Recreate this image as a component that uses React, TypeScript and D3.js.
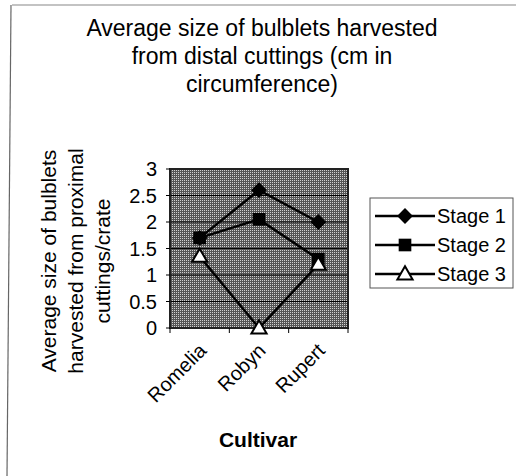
import React from "react";
import * as d3 from "d3";

const categories = ["Romelia", "Robyn", "Rupert"];
const stage1 = [1.7, 2.6, 2.0];
const stage2 = [1.7, 2.05, 1.3];
const stage3 = [1.35, 0, 1.2];
const seriesNames = ["Stage 1", "Stage 2", "Stage 3"];
const yTicks = [0, 0.5, 1, 1.5, 2, 2.5, 3];
const titleLines = ["Average size of bulblets harvested", "from distal cuttings (cm in", "circumference)"];
const yTitleLines = ["Average size of bulblets", "harvested from proximal", "cuttings/crate"];
const xTitle = "Cultivar";

const FONT = "'Liberation Sans', Arial, Helvetica, sans-serif";

function Marker({ kind, x, y }: { kind: number; x: number; y: number }) {
  if (kind === 0) {
    const s = d3.symbol().type(d3.symbolDiamond2).size(160)();
    return <path d={s || ""} transform={`translate(${x},${y})`} fill="#000" />;
  }
  if (kind === 1) {
    const s = d3.symbol().type(d3.symbolSquare).size(160)();
    return <path d={s || ""} transform={`translate(${x},${y})`} fill="#000" />;
  }
  const s = d3.symbol().type(d3.symbolTriangle).size(100)();
  return <path d={s || ""} transform={`translate(${x},${y + 1})`} fill="#fff" stroke="#000" strokeWidth={2} />;
}

export default function App() {
  const W = 516, H = 476;
  const plot = { left: 170, right: 348, top: 169, bottom: 328 };
  const x = d3.scaleBand().domain(categories).range([plot.left, plot.right]);
  const y = d3.scaleLinear().domain([0, 3]).range([plot.bottom, plot.top]);
  const series = [stage1, stage2, stage3];
  const line = d3
    .line<number>()
    .x((_, i) => (x(categories[i]) as number) + x.bandwidth() / 2)
    .y((d) => y(d));
  const catEdges = [...categories.map((c) => x(c) as number), plot.right];

  const legend = { x: 370, y: 198, w: 143, h: 90 };
  const legendYs = [216, 245, 274];

  return (
    <svg
      width={W}
      height={H}
      style={{ position: "absolute", left: 0, top: 0, background: "#fff" }}
      fontFamily={FONT}
    >
      <defs>
        <pattern id="hatch" width="2" height="2" patternUnits="userSpaceOnUse">
          <rect width="2" height="2" fill="#555" />
          <rect width="1" height="1" fill="#d0d0d0" />
        </pattern>
      </defs>
      {/* outer border (top & left) */}
      <line x1={12} y1={5} x2={516} y2={5} stroke="#888" strokeWidth={1.2} />
      <line x1={11} y1={5} x2={7} y2={476} stroke="#666" strokeWidth={1.2} />

      {/* title */}
      {titleLines.map((t, i) => (
        <text key={i} x={262} y={36 + i * 28} textAnchor="middle" fontSize={23} fill="#000">
          {t}
        </text>
      ))}

      {/* plot area */}
      <rect
        x={plot.left}
        y={plot.top}
        width={plot.right - plot.left}
        height={plot.bottom - plot.top}
        fill="url(#hatch)"
      />
      {yTicks.map((t) => (
        <line key={t} x1={plot.left} x2={plot.right} y1={y(t)} y2={y(t)} stroke="#000" strokeWidth={1} />
      ))}
      <rect
        x={plot.left}
        y={plot.top}
        width={plot.right - plot.left}
        height={plot.bottom - plot.top}
        fill="none"
        stroke="#222"
        strokeWidth={2}
      />
      {/* y ticks */}
      {yTicks.map((t) => (
        <g key={t}>
          <line x1={plot.left - 4} x2={plot.left} y1={y(t)} y2={y(t)} stroke="#000" />
          <text x={157} y={y(t)} dy="0.35em" textAnchor="end" fontSize={20}>
            {d3.format("~g")(t)}
          </text>
        </g>
      ))}
      {/* x ticks */}
      {catEdges.map((e, i) => (
        <line key={i} x1={e} x2={e} y1={plot.bottom} y2={plot.bottom + 5} stroke="#000" />
      ))}
      {categories.map((c) => {
        const cx = (x(c) as number) + x.bandwidth() / 2;
        return (
          <text
            key={c}
            transform={`translate(${cx - 2},${plot.bottom + 14}) rotate(-45)`}
            textAnchor="end"
            dy="0.7em"
            fontSize={20}
          >
            {c}
          </text>
        );
      })}
      <text x={258} y={447} textAnchor="middle" fontSize={21} fontWeight="bold">
        {xTitle}
      </text>
      {/* y title */}
      {yTitleLines.map((t, i) => (
        <text
          key={i}
          transform={`translate(${56 + i * 27},261) rotate(-90)`}
          textAnchor="middle"
          fontSize={21}
        >
          {t}
        </text>
      ))}

      {/* series */}
      {series.map((s, si) => (
        <path key={si} d={line(s) || ""} fill="none" stroke="#000" strokeWidth={2.5} />
      ))}
      {series.map((s, si) =>
        s.map((v, i) => (
          <Marker
            key={`${si}-${i}`}
            kind={si}
            x={(x(categories[i]) as number) + x.bandwidth() / 2}
            y={y(v)}
          />
        ))
      )}

      {/* legend */}
      <rect x={legend.x} y={legend.y} width={legend.w} height={legend.h} fill="#fff" stroke="#555" strokeWidth={1} />
      {seriesNames.map((n, i) => (
        <g key={n}>
          <line x1={375} x2={435} y1={legendYs[i]} y2={legendYs[i]} stroke="#000" strokeWidth={2.5} />
          <Marker kind={i} x={405} y={legendYs[i]} />
          <text x={437} y={legendYs[i]} dy="0.35em" fontSize={20}>
            {n}
          </text>
        </g>
      ))}
    </svg>
  );
}
